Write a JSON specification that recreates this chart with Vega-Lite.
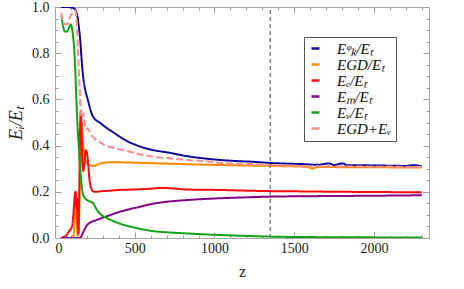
{
  "$schema": "https://vega.github.io/schema/vega-lite/v6.json",
  "width": 374,
  "height": 231,
  "autosize": {"type": "none"},
  "padding": {"left": 55, "top": 7, "right": 35, "bottom": 51},
  "config": {
    "view": {"stroke": "#a8a8a8", "strokeWidth": 1},
    "font": "serif",
    "axis": {
      "domain": false,
      "grid": false,
      "tickColor": "#a0a0a0",
      "tickWidth": 1,
      "labelFont": "serif",
      "labelFontSize": 14,
      "labelColor": "#222",
      "titleFont": "serif",
      "titleColor": "#222",
      "titleFontWeight": "normal"
    },
    "legend": {
      "labelFont": "serif"
    }
  },
  "datasets": {
    "curves": [
      {"series": "EK", "z": 38, "v": 1.0},
      {"series": "EK", "z": 60, "v": 1.0},
      {"series": "EK", "z": 90, "v": 0.999},
      {"series": "EK", "z": 110, "v": 0.997},
      {"series": "EK", "z": 125, "v": 0.99},
      {"series": "EK", "z": 135, "v": 0.975},
      {"series": "EK", "z": 143, "v": 0.95},
      {"series": "EK", "z": 150, "v": 0.91},
      {"series": "EK", "z": 158, "v": 0.86},
      {"series": "EK", "z": 165, "v": 0.79},
      {"series": "EK", "z": 172, "v": 0.73},
      {"series": "EK", "z": 180, "v": 0.68},
      {"series": "EK", "z": 190, "v": 0.64},
      {"series": "EK", "z": 205, "v": 0.6},
      {"series": "EK", "z": 220, "v": 0.56},
      {"series": "EK", "z": 235, "v": 0.53},
      {"series": "EK", "z": 250, "v": 0.515},
      {"series": "EK", "z": 280, "v": 0.5},
      {"series": "EK", "z": 320, "v": 0.478},
      {"series": "EK", "z": 360, "v": 0.46},
      {"series": "EK", "z": 403, "v": 0.44},
      {"series": "EK", "z": 450, "v": 0.42},
      {"series": "EK", "z": 507, "v": 0.403},
      {"series": "EK", "z": 560, "v": 0.39},
      {"series": "EK", "z": 612, "v": 0.381},
      {"series": "EK", "z": 717, "v": 0.369},
      {"series": "EK", "z": 822, "v": 0.355},
      {"series": "EK", "z": 930, "v": 0.345},
      {"series": "EK", "z": 1031, "v": 0.338},
      {"series": "EK", "z": 1140, "v": 0.333},
      {"series": "EK", "z": 1240, "v": 0.33},
      {"series": "EK", "z": 1346, "v": 0.325},
      {"series": "EK", "z": 1450, "v": 0.322},
      {"series": "EK", "z": 1550, "v": 0.32},
      {"series": "EK", "z": 1650, "v": 0.317},
      {"series": "EK", "z": 1720, "v": 0.323},
      {"series": "EK", "z": 1745, "v": 0.316},
      {"series": "EK", "z": 1805, "v": 0.323},
      {"series": "EK", "z": 1830, "v": 0.315},
      {"series": "EK", "z": 1900, "v": 0.315},
      {"series": "EK", "z": 2000, "v": 0.314},
      {"series": "EK", "z": 2100, "v": 0.313},
      {"series": "EK", "z": 2200, "v": 0.312},
      {"series": "EK", "z": 2250, "v": 0.315},
      {"series": "EK", "z": 2300, "v": 0.31},

      {"series": "EGD", "z": 38, "v": 0.0},
      {"series": "EGD", "z": 100, "v": 0.0},
      {"series": "EGD", "z": 115, "v": 0.01},
      {"series": "EGD", "z": 122, "v": 0.05},
      {"series": "EGD", "z": 128, "v": 0.15},
      {"series": "EGD", "z": 132, "v": 0.2},
      {"series": "EGD", "z": 137, "v": 0.1},
      {"series": "EGD", "z": 142, "v": 0.01},
      {"series": "EGD", "z": 148, "v": 0.02},
      {"series": "EGD", "z": 155, "v": 0.2},
      {"series": "EGD", "z": 162, "v": 0.45},
      {"series": "EGD", "z": 168, "v": 0.5},
      {"series": "EGD", "z": 175, "v": 0.42},
      {"series": "EGD", "z": 185, "v": 0.35},
      {"series": "EGD", "z": 200, "v": 0.325},
      {"series": "EGD", "z": 220, "v": 0.315},
      {"series": "EGD", "z": 245, "v": 0.312},
      {"series": "EGD", "z": 280, "v": 0.322},
      {"series": "EGD", "z": 350, "v": 0.328},
      {"series": "EGD", "z": 450, "v": 0.327},
      {"series": "EGD", "z": 550, "v": 0.325},
      {"series": "EGD", "z": 700, "v": 0.322},
      {"series": "EGD", "z": 900, "v": 0.318},
      {"series": "EGD", "z": 1100, "v": 0.315},
      {"series": "EGD", "z": 1350, "v": 0.312},
      {"series": "EGD", "z": 1580, "v": 0.308},
      {"series": "EGD", "z": 1610, "v": 0.301},
      {"series": "EGD", "z": 1650, "v": 0.307},
      {"series": "EGD", "z": 2000, "v": 0.306},
      {"series": "EGD", "z": 2300, "v": 0.305},

      {"series": "EE", "z": 36, "v": 0.0},
      {"series": "EE", "z": 55, "v": 0.005},
      {"series": "EE", "z": 70, "v": 0.01},
      {"series": "EE", "z": 88, "v": 0.03},
      {"series": "EE", "z": 100, "v": 0.04},
      {"series": "EE", "z": 107, "v": 0.05},
      {"series": "EE", "z": 115, "v": 0.1},
      {"series": "EE", "z": 122, "v": 0.17},
      {"series": "EE", "z": 127, "v": 0.2},
      {"series": "EE", "z": 130, "v": 0.19},
      {"series": "EE", "z": 134, "v": 0.13},
      {"series": "EE", "z": 138, "v": 0.17},
      {"series": "EE", "z": 142, "v": 0.05},
      {"series": "EE", "z": 146, "v": 0.02},
      {"series": "EE", "z": 152, "v": 0.2},
      {"series": "EE", "z": 158, "v": 0.5},
      {"series": "EE", "z": 162, "v": 0.55},
      {"series": "EE", "z": 167, "v": 0.45},
      {"series": "EE", "z": 172, "v": 0.32},
      {"series": "EE", "z": 178, "v": 0.29},
      {"series": "EE", "z": 185, "v": 0.33},
      {"series": "EE", "z": 193, "v": 0.38},
      {"series": "EE", "z": 200, "v": 0.37},
      {"series": "EE", "z": 208, "v": 0.32},
      {"series": "EE", "z": 215, "v": 0.26},
      {"series": "EE", "z": 225, "v": 0.22},
      {"series": "EE", "z": 235, "v": 0.205},
      {"series": "EE", "z": 250, "v": 0.2},
      {"series": "EE", "z": 300, "v": 0.203},
      {"series": "EE", "z": 350, "v": 0.205},
      {"series": "EE", "z": 403, "v": 0.208},
      {"series": "EE", "z": 500, "v": 0.21},
      {"series": "EE", "z": 612, "v": 0.214},
      {"series": "EE", "z": 675, "v": 0.217},
      {"series": "EE", "z": 750, "v": 0.214},
      {"series": "EE", "z": 822, "v": 0.21},
      {"series": "EE", "z": 1031, "v": 0.208},
      {"series": "EE", "z": 1200, "v": 0.205},
      {"series": "EE", "z": 1346, "v": 0.203},
      {"series": "EE", "z": 1500, "v": 0.202},
      {"series": "EE", "z": 1800, "v": 0.2},
      {"series": "EE", "z": 2000, "v": 0.199},
      {"series": "EE", "z": 2300, "v": 0.198},

      {"series": "EM", "z": 38, "v": 0.0},
      {"series": "EM", "z": 150, "v": 0.0},
      {"series": "EM", "z": 160, "v": 0.002},
      {"series": "EM", "z": 170, "v": 0.015},
      {"series": "EM", "z": 180, "v": 0.03},
      {"series": "EM", "z": 195, "v": 0.05},
      {"series": "EM", "z": 210, "v": 0.062},
      {"series": "EM", "z": 230, "v": 0.07},
      {"series": "EM", "z": 260, "v": 0.078},
      {"series": "EM", "z": 300, "v": 0.088},
      {"series": "EM", "z": 350, "v": 0.1},
      {"series": "EM", "z": 403, "v": 0.113},
      {"series": "EM", "z": 450, "v": 0.122},
      {"series": "EM", "z": 500, "v": 0.13},
      {"series": "EM", "z": 612, "v": 0.148},
      {"series": "EM", "z": 717, "v": 0.158},
      {"series": "EM", "z": 822, "v": 0.164},
      {"series": "EM", "z": 1031, "v": 0.172},
      {"series": "EM", "z": 1200, "v": 0.176},
      {"series": "EM", "z": 1346, "v": 0.179},
      {"series": "EM", "z": 1600, "v": 0.181},
      {"series": "EM", "z": 1800, "v": 0.182},
      {"series": "EM", "z": 2000, "v": 0.183},
      {"series": "EM", "z": 2300, "v": 0.185},

      {"series": "EV", "z": 40, "v": 0.96},
      {"series": "EV", "z": 50, "v": 0.92},
      {"series": "EV", "z": 58, "v": 0.897},
      {"series": "EV", "z": 70, "v": 0.893},
      {"series": "EV", "z": 85, "v": 0.905},
      {"series": "EV", "z": 98, "v": 0.925},
      {"series": "EV", "z": 106, "v": 0.91},
      {"series": "EV", "z": 113, "v": 0.875},
      {"series": "EV", "z": 120, "v": 0.82},
      {"series": "EV", "z": 126, "v": 0.74},
      {"series": "EV", "z": 134, "v": 0.6},
      {"series": "EV", "z": 140, "v": 0.5},
      {"series": "EV", "z": 147, "v": 0.42},
      {"series": "EV", "z": 155, "v": 0.33},
      {"series": "EV", "z": 163, "v": 0.26},
      {"series": "EV", "z": 172, "v": 0.2},
      {"series": "EV", "z": 185, "v": 0.175},
      {"series": "EV", "z": 200, "v": 0.165},
      {"series": "EV", "z": 220, "v": 0.158},
      {"series": "EV", "z": 240, "v": 0.15},
      {"series": "EV", "z": 260, "v": 0.125},
      {"series": "EV", "z": 290, "v": 0.1},
      {"series": "EV", "z": 320, "v": 0.088},
      {"series": "EV", "z": 360, "v": 0.075},
      {"series": "EV", "z": 403, "v": 0.063},
      {"series": "EV", "z": 500, "v": 0.045},
      {"series": "EV", "z": 612, "v": 0.03},
      {"series": "EV", "z": 717, "v": 0.024},
      {"series": "EV", "z": 822, "v": 0.02},
      {"series": "EV", "z": 930, "v": 0.016},
      {"series": "EV", "z": 1031, "v": 0.013},
      {"series": "EV", "z": 1200, "v": 0.009},
      {"series": "EV", "z": 1346, "v": 0.006},
      {"series": "EV", "z": 1600, "v": 0.004},
      {"series": "EV", "z": 1900, "v": 0.003},
      {"series": "EV", "z": 2300, "v": 0.002},

      {"series": "EGDV", "z": 38, "v": 0.975},
      {"series": "EGDV", "z": 50, "v": 0.94},
      {"series": "EGDV", "z": 62, "v": 0.925},
      {"series": "EGDV", "z": 75, "v": 0.925},
      {"series": "EGDV", "z": 90, "v": 0.95},
      {"series": "EGDV", "z": 105, "v": 0.97},
      {"series": "EGDV", "z": 118, "v": 0.975},
      {"series": "EGDV", "z": 128, "v": 0.985},
      {"series": "EGDV", "z": 135, "v": 0.95},
      {"series": "EGDV", "z": 143, "v": 0.83},
      {"series": "EGDV", "z": 150, "v": 0.72},
      {"series": "EGDV", "z": 157, "v": 0.62},
      {"series": "EGDV", "z": 163, "v": 0.54},
      {"series": "EGDV", "z": 170, "v": 0.52},
      {"series": "EGDV", "z": 178, "v": 0.54},
      {"series": "EGDV", "z": 185, "v": 0.5},
      {"series": "EGDV", "z": 193, "v": 0.47},
      {"series": "EGDV", "z": 205, "v": 0.475},
      {"series": "EGDV", "z": 224, "v": 0.45},
      {"series": "EGDV", "z": 250, "v": 0.43},
      {"series": "EGDV", "z": 277, "v": 0.417},
      {"series": "EGDV", "z": 320, "v": 0.4},
      {"series": "EGDV", "z": 382, "v": 0.388},
      {"series": "EGDV", "z": 466, "v": 0.374},
      {"series": "EGDV", "z": 507, "v": 0.367},
      {"series": "EGDV", "z": 612, "v": 0.352},
      {"series": "EGDV", "z": 717, "v": 0.345},
      {"series": "EGDV", "z": 822, "v": 0.338},
      {"series": "EGDV", "z": 930, "v": 0.333},
      {"series": "EGDV", "z": 1031, "v": 0.326},
      {"series": "EGDV", "z": 1240, "v": 0.32},
      {"series": "EGDV", "z": 1346, "v": 0.316},
      {"series": "EGDV", "z": 1500, "v": 0.313},
      {"series": "EGDV", "z": 1600, "v": 0.31},
      {"series": "EGDV", "z": 1700, "v": 0.311},
      {"series": "EGDV", "z": 1800, "v": 0.309},
      {"series": "EGDV", "z": 1900, "v": 0.31},
      {"series": "EGDV", "z": 2000, "v": 0.308},
      {"series": "EGDV", "z": 2100, "v": 0.309},
      {"series": "EGDV", "z": 2200, "v": 0.307},
      {"series": "EGDV", "z": 2300, "v": 0.307}
    ],
    "marker": [{"z": 1350}]
  },
  "layer": [
    {
      "data": {"name": "curves"},
      "mark": {"type": "line", "strokeWidth": 2, "interpolate": "monotone", "clip": true},
      "encoding": {
        "x": {
          "field": "z", "type": "quantitative",
          "scale": {"domain": [0, 2345], "nice": false, "zero": false},
          "title": "z",
          "axis": {
            "orient": "bottom",
            "values": [0,100,200,300,400,500,600,700,800,900,1000,1100,1200,1300,1400,1500,1600,1700,1800,1900,2000,2100,2200,2300],
            "labelExpr": "datum.value % 500 === 0 ? format(datum.value, 'd') : ''",
            "labelFont": "serif",
            "tickSize": {"condition": {"test": "datum.value % 500 === 0", "value": -6}, "value": -3},
            "labelPadding": 9,
            "titleFontSize": 16,
            "titlePadding": 8
          }
        },
        "y": {
          "field": "v", "type": "quantitative",
          "scale": {"domain": [0, 1], "nice": false},
          "title": "Eᵢ/Eₜ",
          "axis": {
            "orient": "left",
            "values": [0,0.05,0.1,0.15,0.2,0.25,0.3,0.35,0.4,0.45,0.5,0.55,0.6,0.65,0.7,0.75,0.8,0.85,0.9,0.95,1],
            "labelExpr": "round(datum.value*100) % 20 === 0 ? format(datum.value, '.1f') : ''",
            "labelFont": "serif",
            "tickSize": {"condition": {"test": "round(datum.value*100) % 20 === 0", "value": -6}, "value": -3},
            "labelPadding": 12,
            "titleFontSize": 18,
            "titleFontStyle": "italic",
            "titlePadding": 6
          }
        },
        "color": {
          "field": "series", "type": "nominal",
          "scale": {
            "domain": ["EK", "EGD", "EE", "EM", "EV", "EGDV"],
            "range": ["#0c0c9c", "#ff8a00", "#ff0a0a", "#880088", "#12a312", "#ff8c8c"]
          },
          "legend": {
            "orient": "none",
            "legendX": 249,
            "legendY": 30,
            "title": null,
            "strokeColor": "#555",
            "fillColor": "white",
            "padding": 4,
            "symbolType": "stroke",
            "symbolSize": 64,
            "symbolStrokeWidth": 2.5,
            "labelFont": "serif",
            "labelFontStyle": "italic",
            "labelFontSize": 15,
            "labelColor": "#111",
            "labelOffset": 14,
            "rowPadding": 0,
            "labelExpr": "{'EK': 'Eᵠₖ/Eₜ', 'EGD': 'EGD/Eₜ', 'EE': 'Eₑ/Eₜ', 'EM': 'Eₘ/Eₜ', 'EV': 'Eᵥ/Eₜ', 'EGDV': 'EGD+Eᵥ'}[datum.value]"
          }
        },
        "strokeDash": {"condition": {"test": "datum.series === 'EGDV'", "value": [7, 3]}, "value": [1, 0]}
      }
    },
    {
      "data": {"name": "marker"},
      "mark": {"type": "rule", "strokeDash": [4, 3], "color": "#808080", "strokeWidth": 1.5},
      "encoding": {
        "x": {
          "field": "z", "type": "quantitative",
          "axis": {
            "orient": "top",
            "title": null,
            "labels": false,
            "values": [0,100,200,300,400,500,600,700,800,900,1000,1100,1200,1300,1400,1500,1600,1700,1800,1900,2000,2100,2200,2300],
            "tickSize": {"condition": {"test": "datum.value % 500 === 0", "value": -6}, "value": -3}
          }
        },
        "y": {
          "datum": 0, "type": "quantitative",
          "axis": {
            "orient": "right",
            "title": null,
            "labels": false,
            "values": [0,0.05,0.1,0.15,0.2,0.25,0.3,0.35,0.4,0.45,0.5,0.55,0.6,0.65,0.7,0.75,0.8,0.85,0.9,0.95,1],
            "tickSize": {"condition": {"test": "round(datum.value*100) % 20 === 0", "value": -6}, "value": -3}
          }
        },
        "y2": {"datum": 1}
      }
    }
  ],
  "resolve": {"axis": {"x": "independent", "y": "independent"}}
}
